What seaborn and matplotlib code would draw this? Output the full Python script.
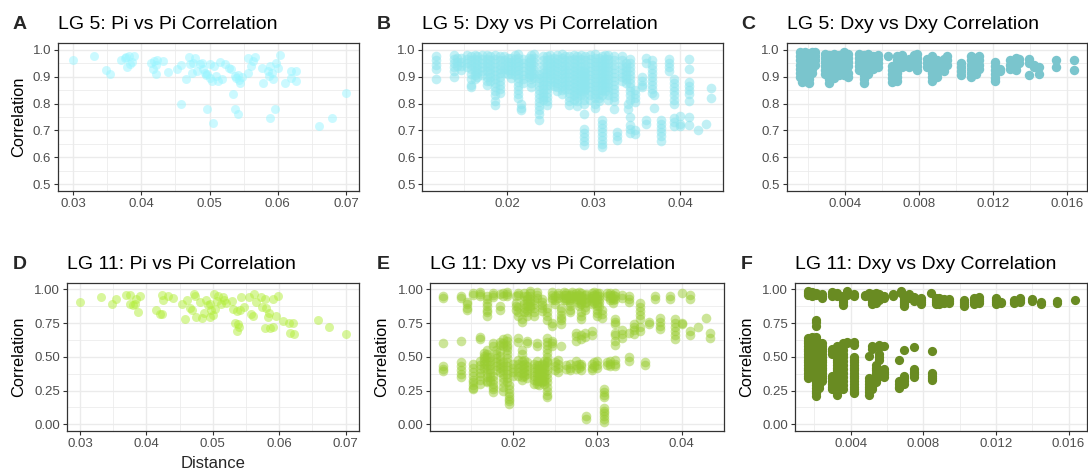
import numpy as np
import pandas as pd
import matplotlib
matplotlib.use("Agg")
import matplotlib.pyplot as plt
import seaborn as sns
from matplotlib.ticker import MultipleLocator, FormatStrFormatter

# ---------------- DATA ----------------
# Panel A: LG 5 Pi vs Pi
a_dist = [0.0300, 0.0331, 0.0348, 0.0354, 0.0371, 0.0376, 0.0377, 0.0382, 0.0379, 0.0383,
          0.0387, 0.0390, 0.0414, 0.0417, 0.0419, 0.0423, 0.0421, 0.0421, 0.0432, 0.0439,
          0.0452, 0.0458, 0.0458, 0.0465, 0.0470, 0.0472, 0.0474, 0.0476, 0.0479, 0.0482,
          0.0486, 0.0489, 0.0490, 0.0493, 0.0495, 0.0497, 0.0497, 0.0500, 0.0501, 0.0503,
          0.0505, 0.0509, 0.0507, 0.0512, 0.0515, 0.0519, 0.0523, 0.0529, 0.0532, 0.0534,
          0.0538, 0.0539, 0.0541, 0.0543, 0.0544, 0.0538, 0.0541, 0.0547, 0.0556, 0.0557,
          0.0561, 0.0563, 0.0566, 0.0577, 0.0578, 0.0585, 0.0587, 0.0589, 0.0592, 0.0593,
          0.0589, 0.0596, 0.0598, 0.0601, 0.0603, 0.0611, 0.0619, 0.0620, 0.0626, 0.0627,
          0.0661, 0.0679, 0.0700]
a_corr = [0.963, 0.975, 0.923, 0.908, 0.961, 0.968, 0.973, 0.978, 0.937, 0.948,
          0.956, 0.978, 0.952, 0.927, 0.958, 0.963, 0.909, 0.943, 0.958, 0.918,
          0.927, 0.942, 0.800, 0.892, 0.973, 0.948, 0.915, 0.952, 0.968, 0.922,
          0.948, 0.952, 0.927, 0.915, 0.906, 0.911, 0.780, 0.948, 0.894, 0.885,
          0.727, 0.903, 0.940, 0.885, 0.956, 0.892, 0.948, 0.933, 0.927, 0.834,
          0.903, 0.895, 0.907, 0.887, 0.878, 0.780, 0.762, 0.900, 0.915, 0.968,
          0.940, 0.958, 0.973, 0.933, 0.876, 0.921, 0.903, 0.940, 0.915, 0.891,
          0.746, 0.780, 0.952, 0.933, 0.981, 0.878, 0.894, 0.921, 0.921, 0.884,
          0.716, 0.748, 0.838]

# Panel B: LG 5 Dxy vs Pi (stripes: one distance, several correlations)
b_dist = [0.0118, 0.0139, 0.0147, 0.0154, 0.0159, 0.0163, 0.0171, 0.0177, 0.0186, 0.0192,
          0.0197, 0.0205, 0.0213, 0.0216, 0.0225, 0.0231, 0.0237, 0.0242, 0.0246, 0.0250,
          0.0258, 0.0263, 0.0271, 0.0277, 0.0281, 0.0289, 0.0290, 0.0296, 0.0302, 0.0310,
          0.0317, 0.0323, 0.0327, 0.0333, 0.0342, 0.0348, 0.0356, 0.0360, 0.0367, 0.0370,
          0.0378, 0.0387, 0.0392, 0.0399, 0.0410, 0.0420, 0.0429, 0.0435,
          0.0143, 0.0166, 0.0181, 0.0201, 0.0209, 0.0219, 0.0228, 0.0254, 0.0267, 0.0285,
          0.0306, 0.0313, 0.0337, 0.0339]
b_corr = [
    [0.975, 0.96, 0.945, 0.93, 0.892],
    [0.98, 0.965, 0.95, 0.935, 0.92, 0.90],
    [0.97, 0.955, 0.94, 0.925],
    [0.98, 0.965, 0.95, 0.935],
    [0.975, 0.96, 0.945, 0.93, 0.91, 0.89, 0.87, 0.86],
    [0.98, 0.965, 0.95, 0.935, 0.92, 0.905, 0.89],
    [0.98, 0.965, 0.95, 0.935, 0.92, 0.905],
    [0.98, 0.965, 0.95, 0.935, 0.92, 0.90, 0.885, 0.87],
    [0.98, 0.965, 0.95, 0.935, 0.92, 0.905, 0.89, 0.875, 0.86, 0.845, 0.83, 0.81, 0.795],
    [0.975, 0.96, 0.945, 0.93, 0.915, 0.90, 0.885, 0.87, 0.855, 0.84],
    [0.975, 0.96, 0.945, 0.93, 0.915],
    [0.97, 0.955, 0.94, 0.925, 0.91, 0.895],
    [0.985, 0.97, 0.955, 0.94, 0.925, 0.91, 0.895, 0.88, 0.865, 0.85, 0.835, 0.82],
    [0.80, 0.785, 0.775],
    [0.97, 0.955, 0.94, 0.925, 0.91, 0.90],
    [0.985, 0.97, 0.955, 0.94, 0.925, 0.91, 0.895],
    [0.91, 0.895, 0.88, 0.865, 0.85, 0.835, 0.82, 0.805, 0.79, 0.775, 0.76, 0.74],
    [0.975, 0.96, 0.945, 0.93, 0.915, 0.90, 0.885, 0.87, 0.855, 0.84, 0.825, 0.815],
    [0.975, 0.96, 0.945, 0.93, 0.915, 0.90, 0.885, 0.87, 0.855, 0.84, 0.825, 0.81, 0.795],
    [0.98, 0.965, 0.95, 0.935, 0.92, 0.905, 0.89, 0.87],
    [0.98, 0.965, 0.95, 0.935, 0.92, 0.905, 0.89, 0.875, 0.86, 0.845],
    [0.985, 0.97, 0.955, 0.94, 0.925, 0.91, 0.895, 0.88, 0.865, 0.85, 0.835],
    [0.975, 0.96, 0.945, 0.93, 0.915, 0.90, 0.885, 0.87, 0.855, 0.84, 0.825, 0.81, 0.795],
    [0.98, 0.965, 0.95, 0.935, 0.92, 0.905, 0.89, 0.875, 0.86, 0.845, 0.83, 0.815],
    [0.975, 0.96, 0.945, 0.93, 0.915, 0.90, 0.885, 0.87, 0.855, 0.84, 0.825, 0.81, 0.79],
    [0.92, 0.905, 0.89, 0.875, 0.86, 0.845, 0.83, 0.815, 0.80, 0.76,
     0.705, 0.69, 0.675, 0.66, 0.645],
    [0.975, 0.96, 0.945, 0.93, 0.915, 0.90, 0.885, 0.87, 0.855],
    [0.98, 0.965, 0.95, 0.935, 0.92, 0.905, 0.89, 0.875, 0.86, 0.845, 0.83, 0.815],
    [0.985, 0.97, 0.955, 0.94, 0.925, 0.91, 0.895, 0.88, 0.865, 0.85, 0.835, 0.82, 0.80, 0.785],
    [0.975, 0.96, 0.945, 0.93, 0.915, 0.90, 0.885, 0.87, 0.85, 0.83,
     0.74, 0.725, 0.71, 0.695, 0.68, 0.665, 0.65, 0.64],
    [0.98, 0.965, 0.95, 0.935, 0.92, 0.905, 0.89, 0.875, 0.86, 0.845, 0.83, 0.815],
    [0.975, 0.96, 0.945, 0.93, 0.915, 0.90, 0.885, 0.87, 0.855, 0.84, 0.825, 0.81, 0.78],
    [0.695, 0.68, 0.665],
    [0.975, 0.96, 0.945, 0.93, 0.915, 0.90, 0.885],
    [0.965, 0.95, 0.935, 0.92, 0.905, 0.89, 0.875, 0.86, 0.845, 0.83, 0.815,
     0.75, 0.72, 0.705, 0.69],
    [0.85, 0.835, 0.82, 0.805, 0.70, 0.685],
    [0.90, 0.885, 0.87, 0.86],
    [0.97, 0.95, 0.74, 0.725],
    [0.96, 0.945, 0.93, 0.915, 0.90, 0.885, 0.87, 0.855, 0.84],
    [0.83, 0.785],
    [0.74, 0.725, 0.71, 0.695, 0.68, 0.66],
    [0.965, 0.95, 0.935, 0.92],
    [0.89, 0.875, 0.86, 0.845, 0.83, 0.815, 0.80, 0.745, 0.73, 0.715],
    [0.755, 0.725, 0.715],
    [0.965, 0.93, 0.88, 0.865, 0.85, 0.835, 0.81, 0.75, 0.72],
    [0.70],
    [0.725],
    [0.858, 0.82],
    [0.97, 0.955, 0.94],
    [0.975, 0.96, 0.945, 0.93, 0.915, 0.90],
    [0.975, 0.96, 0.945, 0.93, 0.915, 0.90, 0.885],
    [0.97, 0.955, 0.94, 0.925, 0.91],
    [0.98, 0.965, 0.95, 0.935, 0.92, 0.905],
    [0.965, 0.95, 0.935, 0.92, 0.905, 0.89, 0.875],
    [0.98, 0.965, 0.95, 0.935, 0.92, 0.905, 0.89, 0.875, 0.86],
    [0.97, 0.955, 0.94, 0.925, 0.91, 0.895, 0.88, 0.865],
    [0.975, 0.96, 0.945, 0.93, 0.915, 0.90, 0.885, 0.87, 0.855],
    [0.98, 0.965, 0.95, 0.935, 0.92, 0.905, 0.89, 0.875, 0.86, 0.845, 0.83],
    [0.97, 0.955, 0.94, 0.925, 0.91, 0.895, 0.88, 0.865, 0.85, 0.835, 0.82, 0.81],
    [0.98, 0.965, 0.95, 0.935, 0.92, 0.905, 0.89, 0.875, 0.86, 0.845],
    [0.95, 0.935, 0.92, 0.905, 0.89, 0.875],
    [0.80, 0.78],
]

# Panel C: LG 5 Dxy vs Dxy
c_dist = [0.00159, 0.00170, 0.00188, 0.00206, 0.00224, 0.00242,
          0.00296, 0.00317, 0.00344, 0.00371, 0.00398, 0.00417,
          0.00479, 0.00506, 0.00524, 0.00554, 0.00578, 0.00632,
          0.00657, 0.00684, 0.00711, 0.00747, 0.00774, 0.00792,
          0.00846, 0.00872, 0.00899, 0.00935, 0.00953,
          0.01025, 0.01079, 0.01106, 0.01124, 0.01208, 0.01237,
          0.01291, 0.01322, 0.01340, 0.01393, 0.01420, 0.01447,
          0.01537, 0.01636]
c_corr = [
    [0.99, 0.975, 0.96, 0.945, 0.93, 0.915, 0.90],
    [0.985, 0.97, 0.955, 0.94, 0.925, 0.91, 0.895, 0.88],
    [0.99, 0.975, 0.96, 0.945, 0.93, 0.915, 0.90, 0.885],
    [0.985, 0.97, 0.955, 0.94, 0.925, 0.91, 0.89, 0.875],
    [0.99, 0.975, 0.96, 0.945, 0.93, 0.915],
    [0.99, 0.975, 0.96, 0.945],
    [0.985, 0.97, 0.955, 0.94, 0.925, 0.91],
    [0.98, 0.965, 0.95, 0.935, 0.92, 0.905, 0.89, 0.875],
    [0.985, 0.97, 0.955, 0.94, 0.925, 0.91, 0.895],
    [0.98, 0.965, 0.95, 0.935, 0.92, 0.905],
    [0.99, 0.975, 0.96, 0.945, 0.93, 0.905],
    [0.985, 0.97, 0.955, 0.94, 0.915, 0.90],
    [0.985, 0.97, 0.955, 0.94, 0.925],
    [0.98, 0.965, 0.95, 0.935, 0.92, 0.905, 0.89, 0.875],
    [0.985, 0.97, 0.955, 0.94, 0.925, 0.91],
    [0.975, 0.96, 0.945, 0.93],
    [0.98, 0.965, 0.95, 0.935],
    [0.975],
    [0.94, 0.925, 0.91, 0.895, 0.88],
    [0.975, 0.96, 0.945, 0.93, 0.915, 0.90, 0.885],
    [0.98, 0.965, 0.95, 0.935],
    [0.965, 0.95, 0.935],
    [0.98, 0.965, 0.95],
    [0.985, 0.97, 0.955, 0.94, 0.925],
    [0.965, 0.95, 0.935],
    [0.975, 0.96, 0.945, 0.93, 0.915, 0.90, 0.885],
    [0.96, 0.945, 0.93, 0.915, 0.90],
    [0.965, 0.95, 0.935, 0.92],
    [0.975, 0.96, 0.945],
    [0.95, 0.935, 0.92, 0.905],
    [0.975, 0.96, 0.945, 0.93, 0.915, 0.90],
    [0.97, 0.955, 0.94, 0.925, 0.91],
    [0.975, 0.96, 0.945, 0.93],
    [0.955, 0.94, 0.925, 0.91, 0.895, 0.885],
    [0.93, 0.92],
    [0.96, 0.945, 0.93],
    [0.97, 0.955, 0.94, 0.925],
    [0.965, 0.95],
    [0.965, 0.95, 0.905],
    [0.945, 0.935],
    [0.935, 0.91],
    [0.96, 0.935],
    [0.96, 0.925],
]

# Panel D: LG 11 Pi vs Pi
d_dist = [0.0300, 0.0331, 0.0348, 0.0354, 0.0370, 0.0375, 0.0376, 0.0380, 0.0383, 0.0388,
          0.0390, 0.0385, 0.0415, 0.0420, 0.0423, 0.0423, 0.0425, 0.0433, 0.0440, 0.0453,
          0.0458, 0.0461, 0.0466, 0.0468, 0.0471, 0.0473, 0.0475, 0.0480, 0.0483, 0.0486,
          0.0490, 0.0492, 0.0495, 0.0495, 0.0497, 0.0500, 0.0503, 0.0502, 0.0506, 0.0508,
          0.0512, 0.0515, 0.0517, 0.0520, 0.0529, 0.0531, 0.0533, 0.0538, 0.0537, 0.0537,
          0.0541, 0.0540, 0.0543, 0.0547, 0.0555, 0.0558, 0.0560, 0.0562, 0.0565, 0.0573,
          0.0578, 0.0574, 0.0580, 0.0579, 0.0583, 0.0584, 0.0586, 0.0590, 0.0591, 0.0598,
          0.0595, 0.0605, 0.0614, 0.0616, 0.0622, 0.0620, 0.0658, 0.0675, 0.0700]
d_corr = [0.906, 0.941, 0.889, 0.929, 0.961, 0.956, 0.889, 0.882, 0.889, 0.833,
          0.951, 0.931, 0.845, 0.820, 0.820, 0.961, 0.919, 0.953, 0.936, 0.894,
          0.783, 0.924, 0.862, 0.845, 0.968, 0.948, 0.796, 0.906, 0.788, 0.828,
          0.924, 0.882, 0.894, 0.796, 0.845, 0.813, 0.857, 0.965, 0.916, 0.948,
          0.892, 0.943, 0.919, 0.897, 0.916, 0.852, 0.754, 0.746, 0.692, 0.837,
          0.845, 0.722, 0.946, 0.869, 0.941, 0.820, 0.803, 0.968, 0.906, 0.941,
          0.931, 0.869, 0.862, 0.714, 0.796, 0.828, 0.714, 0.722, 0.931, 0.951,
          0.803, 0.764, 0.751, 0.677, 0.670, 0.754, 0.771, 0.722, 0.670]

# Panel E: LG 11 Dxy vs Pi
e_dist = [0.0117, 0.0138, 0.0145, 0.0152, 0.0160, 0.0165, 0.0169, 0.0176, 0.0184, 0.0188,
          0.0193, 0.0195, 0.0203, 0.0206, 0.0210, 0.0216, 0.0220, 0.0228, 0.0234, 0.0240,
          0.0246, 0.0253, 0.0257, 0.0263, 0.0267, 0.0275, 0.0281, 0.0287, 0.0293, 0.0299,
          0.0305, 0.0308, 0.0315, 0.0321, 0.0329, 0.0338, 0.0344, 0.0350, 0.0356, 0.0361,
          0.0368, 0.0374, 0.0386, 0.0392, 0.0401, 0.0410, 0.0419, 0.0429, 0.0434,
          0.0172, 0.0180, 0.0200, 0.0213, 0.0225, 0.0231, 0.0237, 0.0250, 0.0260, 0.0270,
          0.0278, 0.0285, 0.0296, 0.0302, 0.0311, 0.0318]
e_corr = [
    [0.95, 0.94, 0.605, 0.43, 0.41, 0.395],
    [0.95, 0.94, 0.62, 0.46, 0.43, 0.40, 0.37, 0.35],
    [0.91, 0.89, 0.865, 0.85],
    [0.97, 0.96, 0.45, 0.42, 0.39, 0.36, 0.33, 0.31, 0.29, 0.27, 0.26],
    [0.98, 0.965, 0.95, 0.65, 0.63, 0.47, 0.44, 0.41, 0.38, 0.36, 0.33, 0.30],
    [0.53, 0.51, 0.49, 0.47, 0.45, 0.42],
    [0.95, 0.93, 0.90, 0.875, 0.85, 0.83, 0.80, 0.55, 0.52, 0.50, 0.47, 0.44, 0.41,
     0.38, 0.35, 0.32, 0.31],
    [0.975, 0.96, 0.945, 0.60, 0.58, 0.36, 0.33, 0.30, 0.28, 0.26, 0.24],
    [0.965, 0.875, 0.85, 0.61, 0.59, 0.54, 0.51, 0.48, 0.45, 0.42, 0.39],
    [0.97, 0.95, 0.63, 0.60, 0.58, 0.46, 0.43, 0.40, 0.37, 0.34, 0.31, 0.28, 0.25],
    [0.98, 0.965, 0.95, 0.64, 0.62, 0.59, 0.57, 0.55, 0.52, 0.49, 0.46, 0.43, 0.40,
     0.37, 0.34, 0.31],
    [0.29, 0.26, 0.23, 0.21, 0.19, 0.17, 0.15],
    [0.955, 0.90, 0.875, 0.85],
    [0.97, 0.96, 0.87, 0.83, 0.80, 0.64, 0.61, 0.48, 0.45, 0.42, 0.39, 0.36],
    [0.78, 0.76, 0.55, 0.52, 0.47, 0.44, 0.41, 0.38, 0.35, 0.33],
    [0.95, 0.93, 0.90, 0.875, 0.85, 0.83, 0.80, 0.62, 0.60, 0.46, 0.43, 0.40, 0.37, 0.34],
    [0.985, 0.97, 0.95, 0.93, 0.905, 0.88, 0.86],
    [0.98, 0.96, 0.94, 0.60, 0.58, 0.47, 0.44, 0.41, 0.38, 0.35, 0.32, 0.30],
    [0.93, 0.91, 0.885, 0.86, 0.84, 0.45, 0.42, 0.39, 0.36, 0.33, 0.31],
    [0.86, 0.83, 0.80, 0.775, 0.64, 0.61, 0.585, 0.56, 0.53, 0.50, 0.47, 0.46, 0.43,
     0.40, 0.37, 0.34, 0.31, 0.28, 0.25, 0.22, 0.20],
    [0.98, 0.96, 0.94, 0.92, 0.75, 0.73, 0.62, 0.60, 0.58],
    [0.975, 0.96, 0.94, 0.48, 0.45, 0.42, 0.39],
    [0.86, 0.84, 0.81, 0.79, 0.77, 0.74, 0.58],
    [0.975, 0.96, 0.94, 0.92, 0.44, 0.41],
    [0.96, 0.94, 0.92, 0.90, 0.88, 0.85, 0.83, 0.45, 0.42, 0.40],
    [0.975, 0.955, 0.93, 0.68, 0.655, 0.62, 0.47, 0.44, 0.41],
    [0.97, 0.95, 0.93, 0.91, 0.89, 0.83, 0.80, 0.78, 0.66, 0.63, 0.45, 0.43, 0.40],
    [0.965, 0.94, 0.91, 0.06, 0.04],
    [0.975, 0.955, 0.935, 0.915, 0.89, 0.69, 0.66, 0.45, 0.42, 0.40],
    [0.97, 0.95, 0.93, 0.90, 0.875, 0.85, 0.825, 0.80, 0.47, 0.44, 0.42],
    [0.85, 0.82, 0.79],
    [0.26, 0.24, 0.22, 0.20, 0.12, 0.10, 0.08, 0.06, 0.04, 0.02],
    [0.975, 0.96, 0.94, 0.92, 0.47, 0.45, 0.43],
    [0.97, 0.95, 0.93, 0.78, 0.76, 0.74, 0.68, 0.66, 0.62, 0.59, 0.48, 0.45, 0.43],
    [0.96, 0.94, 0.70, 0.67, 0.64],
    [0.95, 0.93, 0.91, 0.68, 0.50, 0.47],
    [0.74, 0.72, 0.70, 0.67],
    [0.90, 0.87, 0.84, 0.81, 0.78, 0.72, 0.69],
    [0.46, 0.44],
    [0.76, 0.74],
    [0.95, 0.93],
    [0.79, 0.76, 0.73, 0.71],
    [0.95, 0.93],
    [0.78, 0.75, 0.72, 0.69, 0.66, 0.63],
    [0.97, 0.75, 0.74],
    [0.96, 0.93, 0.69, 0.66],
    [0.72],
    [0.79],
    [0.68, 0.64],
    [0.50, 0.47, 0.44, 0.41, 0.38, 0.35, 0.32],
    [0.55, 0.52, 0.49, 0.46, 0.43, 0.40],
    [0.45, 0.42, 0.39, 0.36],
    [0.97, 0.95, 0.92, 0.89, 0.86, 0.83, 0.48, 0.45, 0.42, 0.39, 0.36],
    [0.92, 0.89, 0.86, 0.83, 0.80, 0.45, 0.42, 0.39, 0.36, 0.33, 0.30],
    [0.44, 0.41, 0.38, 0.35, 0.32, 0.29],
    [0.47, 0.44, 0.41, 0.38, 0.35, 0.32, 0.30],
    [0.95, 0.92, 0.89, 0.46, 0.43, 0.40],
    [0.98, 0.96, 0.94, 0.92],
    [0.98, 0.965, 0.95, 0.935],
    [0.98, 0.96, 0.94, 0.92, 0.90, 0.88, 0.45, 0.42],
    [0.96, 0.93, 0.90, 0.87, 0.85, 0.68, 0.65],
    [0.98, 0.96, 0.94, 0.92, 0.90, 0.46, 0.43],
    [0.97, 0.95, 0.93, 0.91, 0.88],
    [0.97, 0.95, 0.46, 0.44],
    [0.96, 0.94, 0.92, 0.90],
]

# Panel F: LG 11 Dxy vs Dxy
f_dist = [0.00165, 0.00189, 0.00207, 0.00226, 0.00244, 0.00299, 0.00327, 0.00360, 0.00382,
          0.00418, 0.00477, 0.00501, 0.00519, 0.00538, 0.00556, 0.00584, 0.00635, 0.00666,
          0.00679, 0.00694, 0.00721, 0.00749, 0.00786, 0.00841, 0.00850, 0.00868, 0.00887,
          0.00914, 0.00942, 0.01024, 0.01080, 0.01107, 0.01199, 0.01226, 0.01300, 0.01333,
          0.01400, 0.01447, 0.01539, 0.01634]
f_corr = [
    [0.985, 0.97, 0.96, 0.64, 0.62, 0.60, 0.58, 0.56, 0.54, 0.52, 0.50, 0.48, 0.46, 0.44,
     0.42, 0.40, 0.38, 0.36, 0.34],
    [0.98, 0.965, 0.955, 0.65, 0.63, 0.61, 0.59, 0.57, 0.55, 0.53, 0.51, 0.49, 0.47, 0.45,
     0.43, 0.41, 0.39, 0.37],
    [0.97, 0.96, 0.775, 0.755, 0.73, 0.65, 0.63, 0.61, 0.59, 0.57, 0.55, 0.53, 0.51, 0.49,
     0.47, 0.45, 0.43, 0.41, 0.39, 0.37, 0.35, 0.33, 0.31, 0.29, 0.27, 0.25, 0.23, 0.21],
    [0.55, 0.53, 0.51, 0.49, 0.47, 0.45, 0.43, 0.41, 0.39, 0.37, 0.35, 0.33, 0.31, 0.29, 0.27],
    [0.965, 0.95, 0.94, 0.60, 0.58, 0.56, 0.54, 0.52, 0.50, 0.48, 0.46, 0.44, 0.42, 0.40,
     0.38, 0.36, 0.34, 0.32],
    [0.98, 0.965, 0.955, 0.56, 0.54, 0.52, 0.36, 0.34, 0.32, 0.30, 0.28, 0.26],
    [0.975, 0.96, 0.95, 0.58, 0.56, 0.54, 0.52, 0.50, 0.48, 0.46, 0.44, 0.42, 0.40, 0.38,
     0.36, 0.34, 0.32, 0.30, 0.28, 0.26, 0.24, 0.22],
    [0.95, 0.935, 0.92, 0.905, 0.885, 0.60, 0.58, 0.55, 0.52, 0.50, 0.47, 0.44, 0.41, 0.38,
     0.35, 0.32, 0.29, 0.26],
    [0.985, 0.97, 0.96, 0.61, 0.60],
    [0.965, 0.955, 0.61, 0.59, 0.50, 0.48, 0.46, 0.44, 0.42, 0.40, 0.38, 0.36, 0.34, 0.32,
     0.30, 0.28, 0.26, 0.24, 0.23],
    [0.96, 0.95],
    [0.975, 0.96, 0.95, 0.51, 0.34, 0.32, 0.30, 0.28, 0.26, 0.24, 0.22],
    [0.965, 0.95, 0.935, 0.92, 0.905, 0.89, 0.58, 0.56, 0.30, 0.28, 0.26],
    [0.975, 0.96, 0.945, 0.93, 0.915, 0.90, 0.44, 0.42, 0.40, 0.38, 0.36, 0.34, 0.32, 0.31],
    [0.965, 0.95, 0.935, 0.92, 0.59, 0.57, 0.52, 0.50, 0.48, 0.40, 0.38, 0.36],
    [0.955, 0.94, 0.58, 0.41, 0.39, 0.37, 0.35],
    [0.965, 0.95],
    [0.48, 0.32, 0.30, 0.28, 0.27],
    [0.99, 0.975],
    [0.95, 0.935, 0.92, 0.905, 0.89, 0.875, 0.55, 0.36, 0.34, 0.32, 0.30],
    [0.965, 0.95, 0.935],
    [0.945, 0.93, 0.915, 0.57, 0.41, 0.39, 0.37, 0.35],
    [0.94, 0.925, 0.91, 0.895],
    [0.97],
    [0.54, 0.38, 0.36, 0.34, 0.33],
    [0.94, 0.925, 0.91, 0.895],
    [0.935, 0.92, 0.905, 0.89],
    [0.93, 0.915, 0.90],
    [0.93, 0.915, 0.90],
    [0.92, 0.905, 0.89, 0.875],
    [0.935, 0.92, 0.905, 0.89],
    [0.945, 0.93, 0.915, 0.90],
    [0.935, 0.92, 0.905, 0.89],
    [0.91, 0.90],
    [0.925, 0.91, 0.90],
    [0.935, 0.92, 0.905],
    [0.93, 0.915],
    [0.91, 0.895],
    [0.915, 0.90],
    [0.925],
]


def stripes_to_frame(dists, corrs):
    xs, ys = [], []
    for d, cs in zip(dists, corrs):
        for c in cs:
            xs.append(d)
            ys.append(c)
    return pd.DataFrame({"Distance": xs, "Correlation": ys})


df_a = pd.DataFrame({"Distance": a_dist, "Correlation": a_corr})
df_b = stripes_to_frame(b_dist, b_corr)
df_c = stripes_to_frame(c_dist, c_corr)
df_d = pd.DataFrame({"Distance": d_dist, "Correlation": d_corr})
df_e = stripes_to_frame(e_dist, e_corr)
df_f = stripes_to_frame(f_dist, f_corr)

# ---------------- STYLE ----------------
sns.set_style("white")
plt.rcParams["font.family"] = ["Liberation Sans", "DejaVu Sans"]

W, H = 1088, 470
fig = plt.figure(figsize=(W / 100, H / 100), dpi=100)


def add_ax(x0, x1, y0, y1):
    return fig.add_axes([x0 / W, (H - y1) / H, (x1 - x0) / W, (y1 - y0) / H])


panels = [
    dict(df=df_a, box=(58, 359, 43, 191), xlim=(0.0278, 0.0719), xfmt="%.2f", xmaj=0.01, xmin=0.005,
         top=True, title="LG 5: Pi vs Pi Correlation", letter="A", lx=13, color="#98F5FF",
         alpha=0.5, s=42, ylab_x=26),
    dict(df=df_b, box=(422.3, 723, 43, 191), xlim=(0.01025, 0.0449), xfmt="%.2f", xmaj=0.01, xmin=0.005,
         top=True, title="LG 5: Dxy vs Pi Correlation", letter="B", lx=377, color="#8EE5EE",
         alpha=0.55, s=48, ylab_x=None),
    dict(df=df_c, box=(786.7, 1086.7, 43, 191), xlim=(0.00087, 0.01705), xfmt="%.3f", xmaj=0.004,
         xmin=0.002, top=True, title="LG 5: Dxy vs Dxy Correlation", letter="C", lx=741,
         color="#7AC5CD", alpha=1.0, s=46, ylab_x=None),
    dict(df=df_d, box=(66.7, 359, 282.7, 431), xlim=(0.0280, 0.0720), xfmt="%.2f", xmaj=0.01, xmin=0.005,
         top=False, title="LG 11: Pi vs Pi Correlation", letter="D", lx=13, color="#B3EE3A",
         alpha=0.5, s=42, ylab_x=26),
    dict(df=df_e, box=(430.3, 723.7, 282.7, 431), xlim=(0.01015, 0.0450), xfmt="%.2f", xmaj=0.01,
         xmin=0.005, top=False, title="LG 11: Dxy vs Pi Correlation", letter="E", lx=377,
         color="#9ACD32", alpha=0.5, s=48, ylab_x=389.5),
    dict(df=df_f, box=(794.7, 1086.7, 282.7, 431), xlim=(0.00092, 0.0170), xfmt="%.3f", xmaj=0.004,
         xmin=0.002, top=False, title="LG 11: Dxy vs Dxy Correlation", letter="F", lx=741,
         color="#698B22", alpha=1.0, s=44, ylab_x=754),
]

for p in panels:
    x0, x1, y0, y1 = p["box"]
    ax = add_ax(x0, x1, y0, y1)
    sns.scatterplot(data=p["df"], x="Distance", y="Correlation", ax=ax, color=p["color"],
                    alpha=p["alpha"], s=p["s"], linewidth=0, legend=False)
    ax.set_xlim(*p["xlim"])
    if p["top"]:
        ax.set_ylim(0.475, 1.025)
        ax.yaxis.set_major_locator(MultipleLocator(0.1))
        ax.yaxis.set_minor_locator(MultipleLocator(0.05))
        ax.yaxis.set_major_formatter(FormatStrFormatter("%.1f"))
    else:
        ax.set_ylim(-0.05, 1.05)
        ax.yaxis.set_major_locator(MultipleLocator(0.25))
        ax.yaxis.set_minor_locator(MultipleLocator(0.125))
        ax.yaxis.set_major_formatter(FormatStrFormatter("%.2f"))
    ax.xaxis.set_major_locator(MultipleLocator(p["xmaj"]))
    ax.xaxis.set_minor_locator(MultipleLocator(p["xmin"]))
    ax.xaxis.set_major_formatter(FormatStrFormatter(p["xfmt"]))

    ax.set_facecolor("white")
    ax.set_axisbelow(True)
    ax.grid(which="major", color="#EBEBEB", linewidth=1.0)
    ax.grid(which="minor", color="#EBEBEB", linewidth=0.55)
    for sp in ax.spines.values():
        sp.set_visible(True)
        sp.set_color("#333333")
        sp.set_linewidth(0.9)
    ax.tick_params(which="major", length=2.75, width=0.8, color="#333333", labelcolor="#4D4D4D",
                   labelsize=9.5, pad=2.2, bottom=True, left=True)
    ax.tick_params(which="minor", length=0)

    ax.set_xlabel("")
    if p["ylab_x"] is not None:
        ax.set_ylabel("Correlation", fontsize=11.8, color="black")
        ax.yaxis.set_label_coords((p["ylab_x"] - x0) / (x1 - x0), 0.5)
    else:
        ax.set_ylabel("")
    ax.set_title(p["title"], loc="left", fontsize=14, pad=10, color="black")

    base_y = 29 if p["top"] else 269
    fig.text(p["lx"] / W, 1 - base_y / H, p["letter"], fontsize=14, fontweight="bold",
             ha="left", va="baseline")

# Axis title under the bottom-left panel
fig.text((66.7 + 359) / 2 / W, 1 - 468 / H, "Distance", fontsize=12, ha="center", va="baseline")

fig.savefig("out.png", dpi=100)
